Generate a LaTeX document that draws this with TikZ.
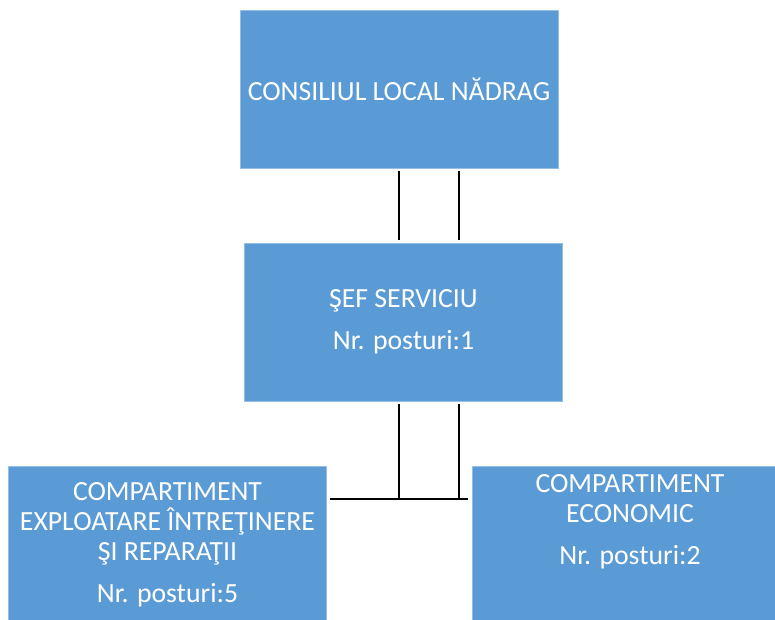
\documentclass[tikz,border=0pt]{standalone}
\usepackage{fontspec}
\setmainfont{Carlito}
\usepackage{xcolor}
\usetikzlibrary{positioning}
\definecolor{boxblue}{HTML}{5B9BD5}
\tikzset{
box/.style = {rectangle, fill=boxblue, draw=boxblue!65!white, line width=0.6pt,
              minimum width=#1, minimum height=118.5pt,
              inner sep=0pt, outer sep=0pt},
box/.default = 239pt, % width of the box
}
\tikzset{
txt/.style = {text=white, align=center, font=\fontsize{20.8}{22.5}\selectfont}
}
\tikzset{
link/.style = {draw=black, line width=1.6pt, shorten <=2.25pt, shorten >=2.25pt}
}

\begin{document}
\begin{tikzpicture}[x=0.75pt, y=-0.75pt]
    \useasboundingbox (0,0) rectangle (775,619);
    \node[box=238.5pt, txt] (cons) at (399,89) {CONSILIUL LOCAL NĂDRAG};
    \node[box, txt] (sef) at (403.5,322) {ŞEF SERVICIU\\[9pt]Nr. posturi:1};
    \node[box, txt] (expl) at (167.5,545) {COMPARTIMENT\\EXPLOATARE ÎNTREŢINERE\\ŞI REPARAŢII\\[9pt]Nr. posturi:5};
    \node[box] (econ) at (631.5,545) {};
    \node[txt] (econText) at (630,522) {COMPARTIMENT\\ECONOMIC\\[9pt]Nr. posturi:2};

    \coordinate (busA) at (399,499);
    \coordinate (busB) at (459,499);

    \draw[link] (busA |- cons.south) -- (busA |- sef.north);
    \draw[link] (busB |- cons.south) -- (busB |- sef.north);

    \draw[link, shorten >=0pt] (busA |- sef.south) -- (busA);
    \draw[link, shorten >=0pt] (busB |- sef.south) -- (busB);
    \draw[link, shorten >=3pt] (busA -| expl.east) -- (busB -| econ.west);
\end{tikzpicture}
\end{document}
